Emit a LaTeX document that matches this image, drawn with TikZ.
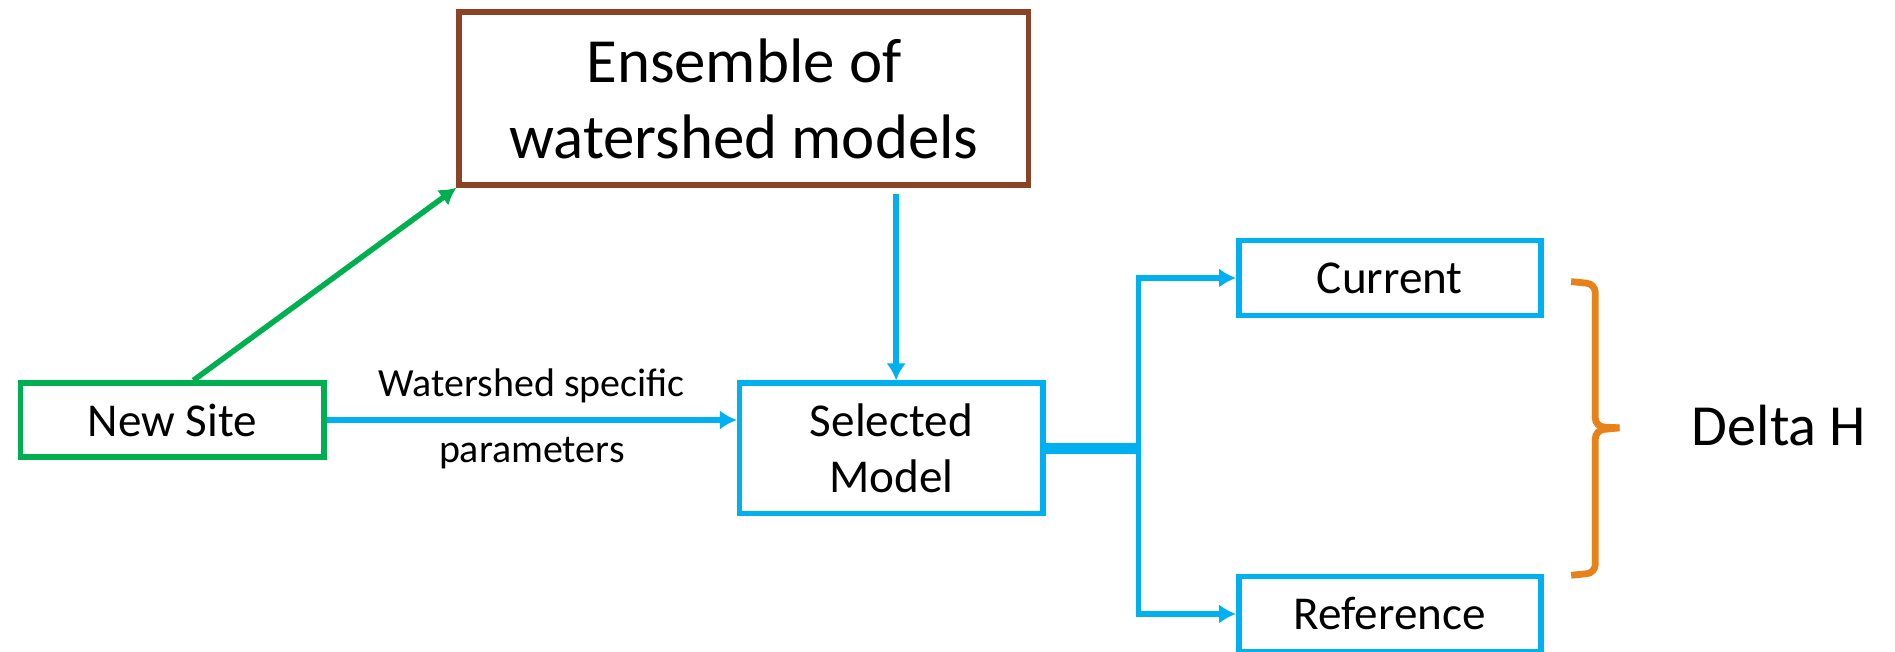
\documentclass[tikz,border=0pt]{standalone}
\usepackage{fontspec}
\setmainfont{Carlito}
\usetikzlibrary{arrows.meta}
\definecolor{skyblue}{RGB}{0,176,240}
\definecolor{sitegreen}{RGB}{0,176,80}
\definecolor{ensbrown}{RGB}{140,66,36}
\definecolor{braceorange}{RGB}{230,130,25}

\begin{document}
\begin{tikzpicture}[x=1cm,y=-1cm,>={Latex[length=1.4mm,width=1.6mm]},
    box/.style={draw,line width=1.3pt,inner sep=0pt,align=center,fill=white},
    flow/.style={->,draw=skyblue,line width=1.3pt},
    txt/.style={font=\fontsize{11.1}{13.3}\selectfont},
    bracket/.style={draw=braceorange,line width=1.6pt,rounded corners=2pt}]
      \useasboundingbox (0,0) rectangle (15.68,5.39);
      \node[box,txt,draw=sitegreen,minimum width=2.51cm,minimum height=0.61cm] (site) at (1.425,3.475) {New Site};
      \node[box,draw=ensbrown,minimum width=4.71cm,minimum height=1.43cm,font=\fontsize{14.8}{17.9}\selectfont] (ens) at (6.155,0.815) {Ensemble of\\watershed models};
      \node[box,txt,draw=skyblue,minimum width=2.51cm,minimum height=1.08cm] (sel) at (7.375,3.71) {Selected\\Model};
      \node[box,txt,draw=skyblue,minimum width=2.50cm,minimum height=0.62cm] (cur) at (11.5,2.30) {Current};
      \node[box,txt,draw=skyblue,minimum width=2.50cm,minimum height=0.62cm] (ref) at (11.5,5.08) {Reference};
      \node[font=\fontsize{13.7}{16}\selectfont] (delta) at (14.72,3.52) {Delta H};
      \coordinate (drop) at ([xshift=0.04cm,yshift=-0.05cm]ens.south -| sel.north);
      \coordinate (split) at (9.42,3.71);
      \draw[->,draw=sitegreen,line width=1.3pt] ([xshift=0.175cm]site.north) -- (ens.south west);
      \draw[flow] (site.east) -- (site.east -| sel.west)
        node[midway,above,font=\fontsize{9.4}{11}\selectfont] {Watershed specific}
        node[midway,below,font=\fontsize{9.4}{11}\selectfont] {parameters};
      \draw[flow] (drop) -- (drop |- sel.north);
      \draw[draw=skyblue,line width=2.6pt] (sel.east) -- (split);
      \draw[flow] (split) |- (cur.west);
      \draw[flow] (split) |- (ref.west);
      \draw[bracket] (13.0,2.33) -- (13.2,2.35) -- (13.2,3.53) -- (13.4,3.54);
      \draw[bracket] (13.4,3.54) -- (13.2,3.56) -- (13.2,4.74) -- (13.0,4.76);
\end{tikzpicture}
\end{document}
